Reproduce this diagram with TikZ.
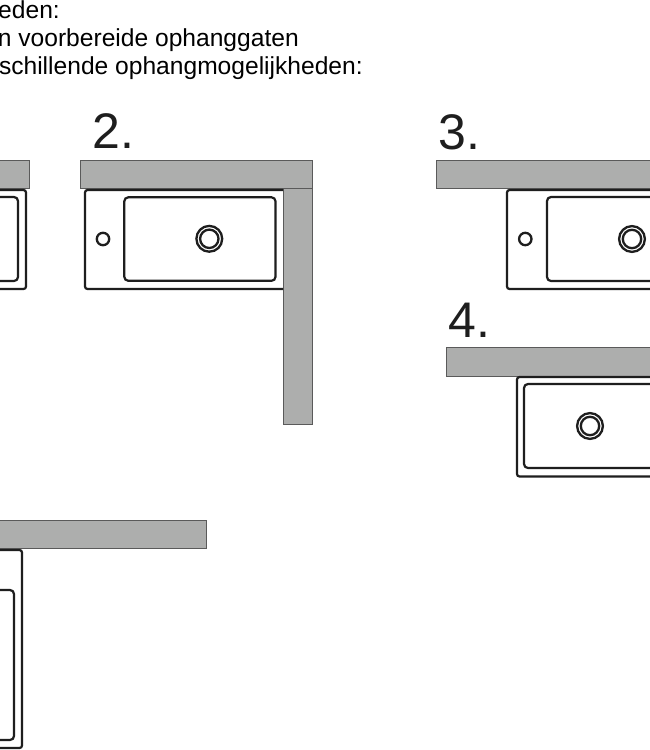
\documentclass[tikz,border=0pt]{standalone}
\usepackage{fontspec}
\setmainfont{Liberation Sans}
\definecolor{shelfgrey}{HTML}{ADAEAD}
\definecolor{shelfedge}{HTML}{5A5A5A}
\definecolor{sinkline}{HTML}{1E1E1E}
\tikzset{
  shelf/.style={fill=shelfgrey, draw=shelfedge, line width=1pt},
  basin/.style={draw=sinkline, line width=2.2pt, rounded corners=2.5pt},
  bowl/.style={draw=sinkline, line width=2.2pt, rounded corners=4pt},
  ring/.style={draw=sinkline, line width=2.3pt},
  bodytext/.style={inner sep=0pt, anchor=base east, font=\fontsize{24.6}{27}\selectfont},
  number/.style={inner sep=0pt, anchor=base west, text=sinkline, font=\fontsize{50}{50}\selectfont}
}
\begin{document}
\begin{tikzpicture}[x=1pt, y=-1pt]
\clip (0, 0) rectangle (650, 750);
\fill[white] (0, 0) rectangle (650, 750);
\node[bodytext] (line1) at (60, 18) {eden:};
\node[bodytext] (line2) at (299, 46) {n voorbereide ophanggaten};
\node[bodytext] (line3) at (363, 74) {schillende ophangmogelijkheden:};
\node[number] (two) at (92, 148) {2.};
\node[number] (three) at (438.5, 149.5) {3.};
\node[number] (four) at (448.5, 337) {4.};
% 1
\path[shelf] (-20, 160) rectangle (29.7, 188);
\path[basin] (-20, 190) rectangle (26, 289);
\path[bowl] (-20, 197) rectangle (18, 281);
% 2
\path[shelf] (80.3, 160) rectangle (312.8, 188);
\path[shelf] (283, 188) rectangle (312.8, 424);
\path[basin] (283, 190) -- (85, 190) -- (85, 289) -- (283, 289);
\path[bowl] (124.3, 197.3) rectangle (275.5, 280.8);
\path[ring] (103, 239) circle (6.2);
\path[ring] (209.3, 238.8) circle (12.9);
\path[ring] (209.3, 238.8) circle (9.2);
% 3
\path[shelf] (436.8, 160) rectangle (670, 188);
\path[basin] (507, 190) rectangle (670, 289);
\path[bowl] (547, 197) rectangle (670, 281);
\path[ring] (525.3, 239) circle (6.2);
\path[ring] (632, 239) circle (12.9);
\path[ring] (632, 239) circle (9.2);
% 4
\path[shelf] (446, 347.3) rectangle (670, 376);
\path[basin] (517, 377) rectangle (670, 476.5);
\path[bowl] (524, 384) rectangle (670, 468);
\path[ring] (590, 426) circle (12.9);
\path[ring] (590, 426) circle (9.2);
% 5
\path[shelf] (-20, 520) rectangle (206.4, 548);
\path[basin] (-20, 550) rectangle (22, 748);
\path[bowl] (-20, 590) rectangle (14, 740);
\end{tikzpicture}
\end{document}
